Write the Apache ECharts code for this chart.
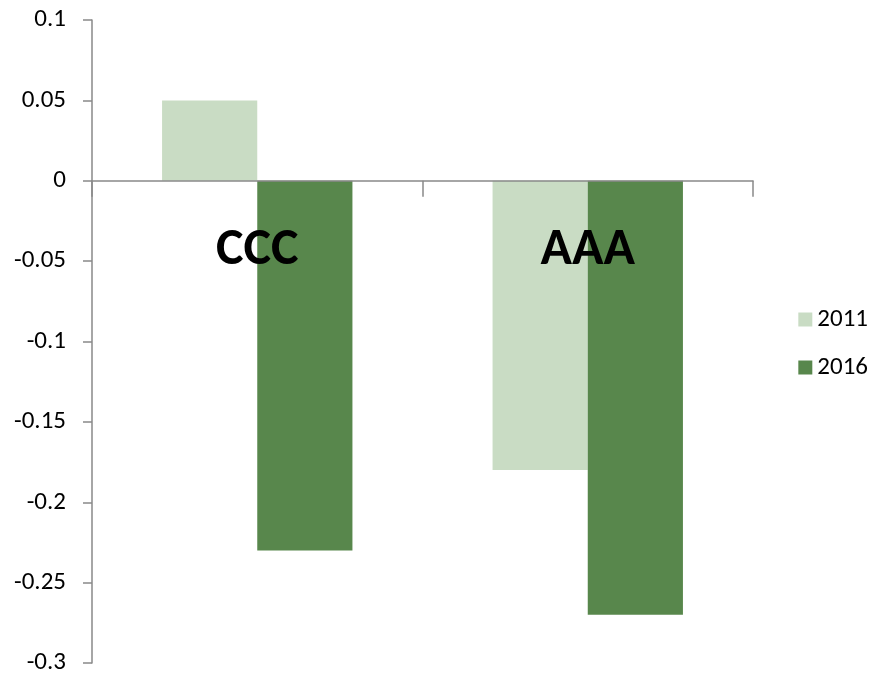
<!DOCTYPE html>
<html>
<head>
<meta charset="utf-8">
<script src="https://cdn.jsdelivr.net/npm/echarts@6/dist/echarts.min.js"></script>
<style>
  html, body { margin: 0; padding: 0; background: #ffffff; }
  #chart { width: 875px; height: 673px; }
</style>
</head>
<body>
<div id="chart"></div>
<script>
// Rating categories and yearly values
const categories = ['CCC', 'AAA'];
const seriesNames = ['2011', '2016'];
const values2011 = [0.05, -0.18];
const values2016 = [-0.23, -0.27];
const yTicks = { min: -0.3, max: 0.1, step: 0.05 };

const colors = ['#C9DCC4', '#58874C'];
const axisGray = '#898989';
const font = 'Carlito, Lato, sans-serif';

const chart = echarts.init(document.getElementById('chart'));
chart.setOption({
  animation: false,
  backgroundColor: '#ffffff',
  grid: {
    left: 92, right: 122, top: 20, bottom: 10,
    containLabel: false,
    outerBoundsMode: 'none'
  },
  legend: {
    orient: 'vertical',
    right: 2,
    top: 302,
    itemWidth: 14,
    itemHeight: 14,
    itemGap: 23,
    icon: 'rect',
    textStyle: { fontFamily: font, fontSize: 25, color: '#000000' },
    data: seriesNames
  },
  xAxis: {
    type: 'category',
    data: categories,
    axisLine: { onZero: true, lineStyle: { color: axisGray, width: 1.5 } },
    axisTick: { show: true, length: 16, lineStyle: { color: axisGray, width: 1.5 } },
    axisLabel: {
      // category names sit just under the zero line, above the bar ends
      margin: -438,
      fontFamily: font,
      fontWeight: 'bold',
      fontSize: 52,
      color: '#000000'
    },
    z: 10
  },
  yAxis: {
    type: 'value',
    min: yTicks.min,
    max: yTicks.max,
    interval: yTicks.step,
    axisLine: { show: true, lineStyle: { color: axisGray, width: 1.5 } },
    axisTick: { show: true, length: 9, lineStyle: { color: axisGray, width: 1.5 } },
    splitLine: { show: false },
    axisLabel: {
      margin: 26,
      fontFamily: font,
      fontSize: 25,
      color: '#000000',
      formatter: function (v) { return String(Math.round(v * 100) / 100); }
    }
  },
  series: [
    {
      name: seriesNames[0],
      type: 'bar',
      data: values2011,
      barGap: '0%',
      barCategoryGap: '42.4%',
      itemStyle: { color: colors[0] }
    },
    {
      name: seriesNames[1],
      type: 'bar',
      data: values2016,
      barGap: '0%',
      barCategoryGap: '42.4%',
      itemStyle: { color: colors[1] }
    }
  ]
});
</script>
</body>
</html>
